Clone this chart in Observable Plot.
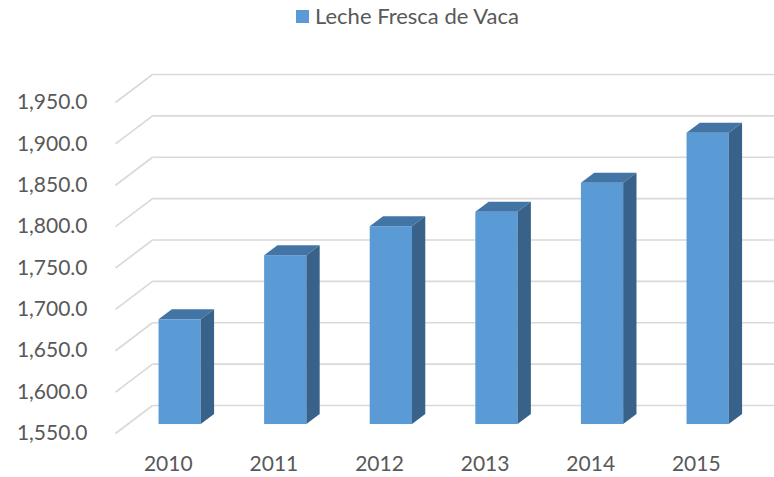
<!DOCTYPE html>
<html>
<head>
<meta charset="utf-8">
<script src="https://cdn.jsdelivr.net/npm/d3@7"></script>
<script src="https://cdn.jsdelivr.net/npm/@observablehq/plot@0.6"></script>
<style>
  html, body { margin: 0; padding: 0; background: #fff; }
  #wrap { position: relative; width: 774px; height: 477px; font-family: Lato, "Open Sans", sans-serif; color: #595959; }
  #legend { position: relative; height: 40px; }
  #legend .sw { position: absolute; left: 296px; top: 10px; width: 13px; height: 13px; background: #5b9bd5; }
  #legend .lb { position: absolute; left: 315px; top: 3px; font-size: 22px; line-height: 26px; white-space: nowrap; }
</style>
</head>
<body>
<div id="wrap">
  <div id="legend"><span class="sw"></span><span class="lb">Leche Fresca de Vaca</span></div>
  <div id="chart"></div>
</div>
<script>
// ---- data ----
const years = ["2010", "2011", "2012", "2013", "2014", "2015"];
const values = [1676.5, 1754, 1789, 1806.5, 1841.5, 1902];
const yTicks = [1550, 1600, 1650, 1700, 1750, 1800, 1850, 1900, 1950];
const seriesName = "Leche Fresca de Vaca";

// ---- layout ----
const W = 774, H = 437;
const mL = 115, mR = 25.4, mT = 62, mB = 44;
const yMin = 1550, yMax = 1950;
const pxPerCat = (W - mL - mR) / years.length;
const pxPerUnit = (H - mT - mB) / (yMax - yMin);
// oblique depth offset of the back wall (pixels -> data units)
const DX = 37 / pxPerCat;
const DY = 28 / pxPerUnit;
const z0 = 0.32, z1 = 0.68;   // bar depth span
const half = 0.2;              // half bar width (category units)

const bars = years.map((y, i) => ({year: y, i, v: values[i], xl: i + 0.5 - half, xr: i + 0.5 + half}));

const topPts = bars.flatMap(b => [z0, z1].map(z => ({year: b.year, y: b.v + z * DY, x1: b.xl + z * DX, x2: b.xr + z * DX})));
const sidePts = bars.flatMap(b => [z0, z1].map(z => ({year: b.year, x: b.xr + z * DX, y1: yMin + z * DY, y2: b.v + z * DY})));

const diag = yTicks.map(t => ({x1: 0, y1: t, x2: DX, y2: t + DY}));
const back = yTicks.map(t => ({x1: DX, y1: t + DY, x2: years.length + DX + 1, y2: t + DY}));

const grid = "#d9d9d9";
const chart = Plot.plot({
  width: W, height: H,
  marginLeft: mL, marginRight: mR, marginTop: mT, marginBottom: mB,
  x: {type: "linear", domain: [0, years.length], axis: null},
  y: {type: "linear", domain: [yMin, yMax], axis: null},
  style: {fontFamily: "Lato, 'Open Sans', sans-serif", fontSize: "21px", color: "#595959", background: "#fff", overflow: "visible"},
  marks: [
    Plot.link(diag, {x1: "x1", y1: "y1", x2: "x2", y2: "y2", stroke: grid, strokeWidth: 1.6}),
    Plot.link(back, {x1: "x1", y1: "y1", x2: "x2", y2: "y2", stroke: grid, strokeWidth: 1.6}),
    Plot.rect(bars, {x1: d => d.xl + z0 * DX, x2: d => d.xr + z0 * DX, y1: yMin + z0 * DY, y2: d => d.v + z0 * DY, fill: "#5b9bd5", inset: 0}),
    Plot.areaX(topPts, {y: "y", x1: "x1", x2: "x2", z: "year", fill: "#4274a5", curve: "linear"}),
    Plot.areaY(sidePts, {x: "x", y1: "y1", y2: "y2", z: "year", fill: "#38628a", curve: "linear"}),
    Plot.text(yTicks, {x: 0, y: d => d, text: d => d3.format(",.1f")(d), textAnchor: "end", dx: -28, fill: "#595959"}),
    Plot.text(years, {x: (d, i) => i + 0.5, y: yMin, text: d => d, dy: 31, fill: "#595959"})
  ]
});
document.getElementById("chart").appendChild(chart);
</script>
</body>
</html>
